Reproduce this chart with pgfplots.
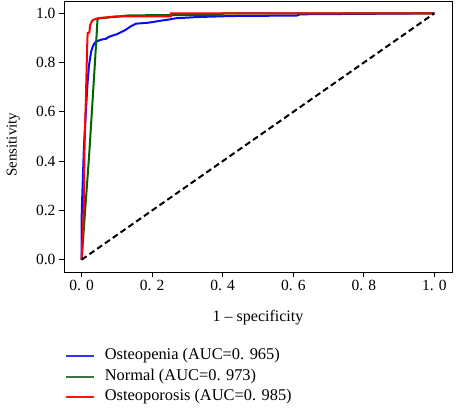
\documentclass[border=0pt]{standalone}
\usepackage{pgfplots}
\pgfplotsset{compat=1.18}
\usepackage{fontspec}
\setmainfont{Liberation Serif}
\definecolor{cblue}{RGB}{10,10,255}
\definecolor{cgreen}{RGB}{0,100,0}
\definecolor{cred}{RGB}{255,0,0}
\definecolor{lblue}{RGB}{50,50,255}
\definecolor{lgreen}{RGB}{60,115,60}
\definecolor{lred}{RGB}{255,20,20}
\begin{document}
\begin{tikzpicture}
\useasboundingbox (-64pt,-136pt) rectangle (396pt,272pt);
\begin{axis}[
  at={(0pt,0pt)}, anchor=south west,
  scale only axis, width=388pt, height=271pt,
  xmin=-0.05, xmax=1.05, ymin=-0.05, ymax=1.05,
  xtick={0,0.2,0.4,0.6,0.8,1.0},
  xticklabels={0. 0,0. 2,0. 4,0. 6,0. 8,1. 0},
  ytick={0,0.2,0.4,0.6,0.8,1.0},
  yticklabels={0.0,0.2,0.4,0.6,0.8,1.0},
  xtick pos=bottom, ytick pos=left,
  tick align=outside, major tick length=5pt,
  tick style={black, line width=0.8pt},
  axis line style={line width=0.9pt},
  tick label style={font=\fontsize{15.5}{17}\selectfont},
  xlabel={1 – specificity},
  ylabel={Sensitivity},
  xlabel style={font=\fontsize{16}{18}\selectfont, at={(axis description cs:0.5,-0.170)}, anchor=center},
  ylabel style={font=\fontsize{15}{17}\selectfont, at={(axis description cs:-0.131,0.47)}, anchor=center},
  legend cell align=left,
  legend style={at={(axis description cs:0,0)}, anchor=north west, xshift=1pt, yshift=-76.5pt,
    draw=none, fill=none, inner sep=0pt, row sep=5.5pt,
    font=\fontsize{16.4}{18}\selectfont,
    nodes={inner sep=0pt, text height=11pt, text depth=4pt},
    /tikz/every odd column/.append style={column sep=10pt}},
  legend image code/.code={\draw[#1] (0pt,0pt) -- (28pt,0pt);},
]
\addlegendimage{draw=lblue, line width=1.6pt}
\addlegendentry{Osteopenia (AUC=0. 965)}
\addlegendimage{draw=lgreen, line width=1.6pt}
\addlegendentry{Normal (AUC=0. 973)}
\addlegendimage{draw=lred, line width=1.6pt}
\addlegendentry{Osteoporosis (AUC=0. 985)}
\addplot[cblue, line width=2pt, forget plot] coordinates {
(0,0) (0,0.17) (0.002,0.27) (0.004,0.35) (0.006,0.44) (0.008,0.5) (0.012,0.6) (0.016,0.7) (0.018,0.74) (0.021,0.79) (0.027,0.845) (0.032,0.867) (0.037,0.88) (0.046,0.888) (0.055,0.893) (0.07,0.897) (0.075,0.903) (0.088,0.91) (0.1,0.915) (0.107,0.92) (0.126,0.934) (0.14,0.948) (0.154,0.958) (0.19,0.962) (0.22,0.969) (0.248,0.975) (0.267,0.98) (0.33,0.985) (0.425,0.989) (0.61,0.991) (0.62,0.996) (1.0,1.0)};
\addplot[cgreen, line width=2pt, forget plot] coordinates {
(0,0) (0.022,0.44) (0.039,0.83) (0.045,0.975) (0.05,0.98) (0.1,0.986) (0.135,0.992) (0.4,0.993) (0.4,1.0) (1,1)};
\addplot[cred, line width=2pt, forget plot] coordinates {
(0,0) (0.003,0.1) (0.006,0.21) (0.008,0.44) (0.01,0.55) (0.012,0.65) (0.015,0.83) (0.016,0.88) (0.017,0.92) (0.022,0.922) (0.024,0.952) (0.03,0.97) (0.035,0.975) (0.046,0.98) (0.079,0.985) (0.1,0.988) (0.253,0.988) (0.253,1.0) (1,1)};
\addplot[black, line width=2pt, dash pattern=on 6pt off 3.5pt, forget plot] coordinates {(0,0) (1,1)};
\end{axis}
\end{tikzpicture}
\end{document}
